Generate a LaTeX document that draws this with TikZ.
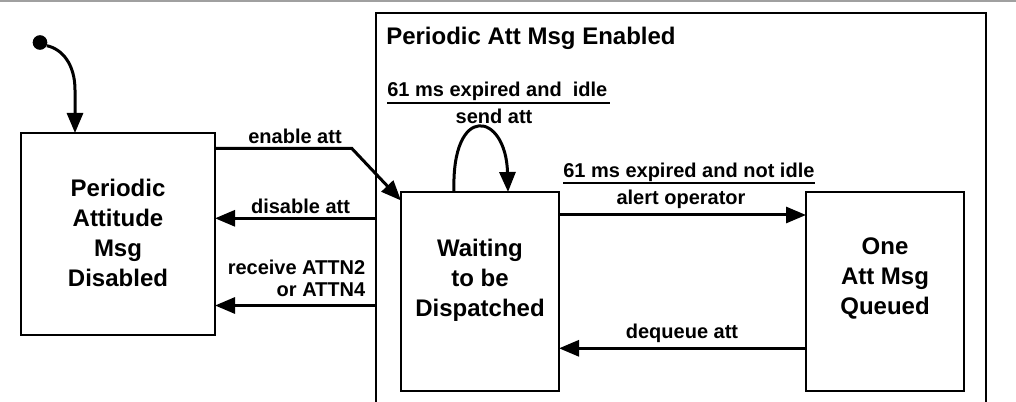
\documentclass[tikz,border=0pt]{standalone}
\usepackage{fontspec}
\setmainfont{Liberation Sans}
\usetikzlibrary{arrows.meta,calc}
\definecolor{topgray}{RGB}{160,160,160}
\begin{document}
\begin{tikzpicture}[x=0.75pt,y=-0.75pt,
  box/.style={draw, line width=1.5pt, rectangle, outer sep=0pt, inner sep=0pt},
  stxt/.style={font=\fontsize{18}{22.5}\selectfont\bfseries, align=center, inner sep=0pt},
  lbl/.style={font=\fontsize{15}{16.5}\selectfont\bfseries, inner sep=0pt},
  conn/.style={line width=2.25pt, -{Triangle[length=15pt,width=12pt]}},
  uline/.style={line width=2pt},
  encl/.style={line width=1.5pt},
]
\useasboundingbox (0,0) rectangle (1016,402);
\fill[topgray] (0,0) rectangle (1016,2.3);

% enclosing composite state (cut off at the bottom)
\coordinate (enc-sw) at (375.5,402);
\coordinate (enc-nw) at (375.5,13);
\coordinate (enc-ne) at (985.5,13);
\coordinate (enc-se) at (985.5,402);
\draw[encl] (enc-sw) -- (enc-nw) -- (enc-ne) -- (enc-se);
\node[font=\fontsize{18}{22.5}\selectfont\bfseries, inner sep=0pt, anchor=base west] (title) at (386,45) {Periodic Att Msg Enabled};

% states
\node[box, minimum width=145.5pt, minimum height=151.5pt] (dis) at (118,234) {};
\node[stxt] (distxt) at (118,233) {Periodic\\Attitude\\Msg\\Disabled};
\node[box, minimum width=118.5pt, minimum height=149.25pt] (wait) at (480,291.5) {};
\node[stxt] (waittxt) at (480,280.5) {Waiting\\to be\\Dispatched};
\node[box, minimum width=118.5pt, minimum height=149.25pt] (one) at (885,291.5) {};
\node[stxt] (onetxt) at (885,278.5) {One\\Att Msg\\Queued};

% initial state
\node[circle, fill, inner sep=0pt, minimum size=11pt] (init) at (40,42.5) {};
\coordinate (initbend) at (75,90);
\draw[conn] (init.-25) .. controls (62,49) and (75,64) .. (initbend) -- (initbend |- dis.north);

% enable att
\coordinate (enbend) at (351.7,148.3);
\draw[conn] (dis.east |- enbend) -- (enbend) -- ($(wait.north west)+(0,8.5)$);
\node[lbl, anchor=base] (lenable) at (295,144) {enable att};

% disable att
\coordinate (ydis) at (0,218.3);
\draw[conn] (enc-nw |- ydis) -- (dis.east |- ydis);
\node[lbl, anchor=base] (ldisable) at (300.5,214) {disable att};

% receive ATTN
\coordinate (yrecv) at (0,305.5);
\draw[conn] (enc-nw |- yrecv) -- (dis.east |- yrecv);
\node[lbl, anchor=east, align=right] (lrecv) at (365.5,278.5) {receive ATTN2\\or ATTN4};

% self loop
\draw[conn] ($(wait.north west)+(53,0)$) .. controls +(-3,-90) and +(-2,-80) .. ($(wait.north west)+(107,0)$);
\node[lbl, anchor=base west] (lidle) at (387,97) {61 ms expired and\ \ idle};
\draw[uline] ($(lidle.base west)+(0,6)$) -- ($(lidle.base east)+(2,6)$);
\node[lbl, anchor=base] (lsend) at (494,124) {send att};

% alert operator
\coordinate (yalert) at (0,215);
\draw[conn] (wait.east |- yalert) -- (one.west |- yalert);
\node[lbl, anchor=base west] (lnotidle) at (563,178) {61 ms expired and not idle};
\draw[uline] ($(lnotidle.base west)+(0,5)$) -- ($(lnotidle.base east)+(0,5)$);
\node[lbl, anchor=base] (lalert) at (681,205) {alert operator};

% dequeue att
\coordinate (ydeq) at (0,348.3);
\draw[conn] (one.west |- ydeq) -- (wait.east |- ydeq);
\node[lbl, anchor=base] (ldequeue) at (682,338) {dequeue att};
\end{tikzpicture}
\end{document}
